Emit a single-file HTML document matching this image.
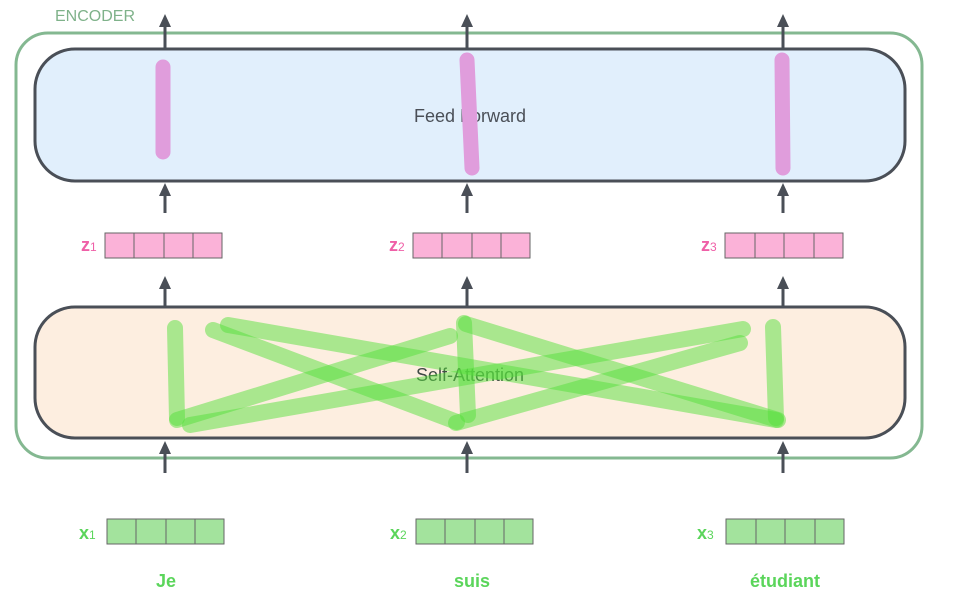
<!DOCTYPE html>
<html><head><meta charset="utf-8"><style>
html,body{margin:0;padding:0;background:#fff;}
svg{display:block;}
text{font-family:"Liberation Sans",sans-serif;}
</style></head><body>
<svg width="960" height="591" viewBox="0 0 960 591" xmlns="http://www.w3.org/2000/svg">
<text x="55" y="21" font-size="16" fill="#7fb28a">ENCODER</text>
<rect x="16" y="33" width="906" height="425" rx="32" fill="none" stroke="#84b891" stroke-width="3"/>
<rect x="35" y="49" width="870" height="132" rx="40" fill="#e1effc" stroke="#4a4f57" stroke-width="3"/>
<text x="470" y="122" font-size="18" fill="#4a4f57" text-anchor="middle">Feed Forward</text>
<rect x="35" y="307" width="870" height="131" rx="40" fill="#fdeee0" stroke="#4a4f57" stroke-width="3"/>
<text x="470" y="381" font-size="18" fill="#3f4a45" text-anchor="middle">Self-Attention</text>
<g stroke="#e09ddc" stroke-width="15" stroke-linecap="round" fill="none">
<line x1="163" y1="67" x2="163" y2="152"/>
<line x1="467" y1="60" x2="472" y2="168"/>
<line x1="782" y1="60" x2="783" y2="168"/>
</g>
<g stroke="#56e03c" stroke-opacity="0.5" stroke-width="16" stroke-linecap="round" fill="none">
<line x1="175" y1="328" x2="177" y2="418"/>
<line x1="177" y1="420" x2="450" y2="336"/>
<line x1="190" y1="425" x2="743" y2="329"/>
<line x1="213" y1="330" x2="457" y2="422"/>
<line x1="228" y1="325" x2="776" y2="420"/>
<line x1="464" y1="323" x2="468" y2="415"/>
<line x1="456" y1="423" x2="740" y2="343"/>
<line x1="466" y1="324" x2="778" y2="420"/>
<line x1="773" y1="327" x2="776" y2="418"/>
</g>
<g stroke="#4a4f57" stroke-width="3">
<line x1="165" y1="48" x2="165" y2="25"/><line x1="467" y1="48" x2="467" y2="25"/><line x1="783" y1="48" x2="783" y2="25"/>
<line x1="165" y1="213" x2="165" y2="195"/><line x1="467" y1="213" x2="467" y2="195"/><line x1="783" y1="213" x2="783" y2="195"/>
<line x1="165" y1="306" x2="165" y2="288"/><line x1="467" y1="306" x2="467" y2="288"/><line x1="783" y1="306" x2="783" y2="288"/>
<line x1="165" y1="473" x2="165" y2="452"/><line x1="467" y1="473" x2="467" y2="452"/><line x1="783" y1="473" x2="783" y2="452"/>
</g>
<g fill="#4a4f57">
<path d="M165,14 L171,27 L159,27Z"/><path d="M467,14 L473,27 L461,27Z"/><path d="M783,14 L789,27 L777,27Z"/>
<path d="M165,183 L171,196 L159,196Z"/><path d="M467,183 L473,196 L461,196Z"/><path d="M783,183 L789,196 L777,196Z"/>
<path d="M165,276 L171,289 L159,289Z"/><path d="M467,276 L473,289 L461,289Z"/><path d="M783,276 L789,289 L777,289Z"/>
<path d="M165,441 L171,454 L159,454Z"/><path d="M467,441 L473,454 L461,454Z"/><path d="M783,441 L789,454 L777,454Z"/>
</g>
<g stroke="#666" stroke-width="1" fill="#fbb2d8">
<rect x="105" y="233" width="117" height="25"/><line x1="134" y1="233" x2="134" y2="258"/><line x1="164" y1="233" x2="164" y2="258"/><line x1="193" y1="233" x2="193" y2="258"/>
<rect x="413" y="233" width="117" height="25"/><line x1="442" y1="233" x2="442" y2="258"/><line x1="472" y1="233" x2="472" y2="258"/><line x1="501" y1="233" x2="501" y2="258"/>
<rect x="725" y="233" width="118" height="25"/><line x1="755" y1="233" x2="755" y2="258"/><line x1="784" y1="233" x2="784" y2="258"/><line x1="814" y1="233" x2="814" y2="258"/>
</g>
<g stroke="#666" stroke-width="1" fill="#a3e39d">
<rect x="107" y="519" width="117" height="25"/><line x1="136" y1="519" x2="136" y2="544"/><line x1="166" y1="519" x2="166" y2="544"/><line x1="195" y1="519" x2="195" y2="544"/>
<rect x="416" y="519" width="117" height="25"/><line x1="445" y1="519" x2="445" y2="544"/><line x1="475" y1="519" x2="475" y2="544"/><line x1="504" y1="519" x2="504" y2="544"/>
<rect x="726" y="519" width="118" height="25"/><line x1="756" y1="519" x2="756" y2="544"/><line x1="785" y1="519" x2="785" y2="544"/><line x1="815" y1="519" x2="815" y2="544"/>
</g>
<g font-weight="bold" font-size="18" fill="#ef5fa7">
<text x="81" y="251">z<tspan font-size="12" font-weight="normal">1</tspan></text>
<text x="389" y="251">z<tspan font-size="12" font-weight="normal">2</tspan></text>
<text x="701" y="251">z<tspan font-size="12" font-weight="normal">3</tspan></text>
</g>
<g font-weight="bold" font-size="18" fill="#5bd55b">
<text x="79" y="539">x<tspan font-size="12" font-weight="normal">1</tspan></text>
<text x="390" y="539">x<tspan font-size="12" font-weight="normal">2</tspan></text>
<text x="697" y="539">x<tspan font-size="12" font-weight="normal">3</tspan></text>
<text x="166" y="587" font-size="18" text-anchor="middle">Je</text>
<text x="472" y="587" font-size="18" text-anchor="middle">suis</text>
<text x="785" y="587" font-size="18" text-anchor="middle">étudiant</text>
</g>
</svg>
</body></html>
